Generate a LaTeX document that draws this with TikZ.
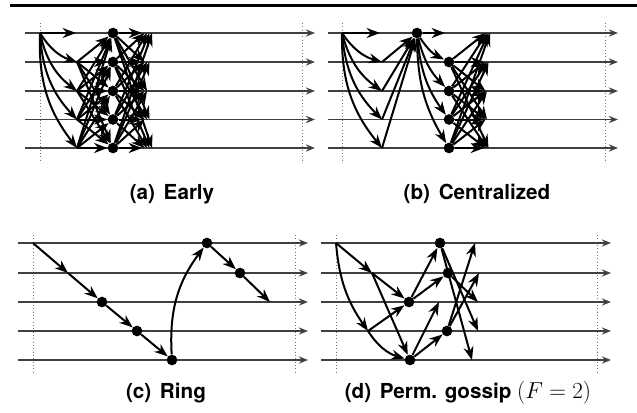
\documentclass[tikz,border=0pt]{standalone}
\usepackage{fontspec}
\setmainfont{TeX Gyre Heros}
\usetikzlibrary{arrows.meta}
\begin{document}
\begin{tikzpicture}[x=0.75pt,y=-0.75pt,
 tl/.style={draw=black!75, line width=1pt, -{Stealth[length=7pt,width=5.5pt,inset=2.6pt]}},
 msg/.style={draw=black, line width=1.5pt, -{Stealth[length=10pt,width=7.5pt,inset=3.2pt]}},
 vdot/.style={draw=black!55, line width=0.5pt, dash pattern=on 0.5pt off 2pt},
 ev/.style={circle, fill=black, inner sep=0pt, minimum size=8pt},
 captext/.style={anchor=base, font=\fontsize{15.5}{18}\selectfont\bfseries},
]
\useasboundingbox (0,0) rectangle (637,412);
\def\ysT{0/33,1/62,2/91,3/119.5,4/148}
\def\ysB{0/243,1/273,2/302,3/331,4/360}

% top rule
\coordinate (ruleL) at (10,5.5);
\coordinate (ruleR) at (637,5.5);
\draw[line width=2.3pt] (ruleL) -- (ruleR);

% ---------- dotted verticals ----------
\foreach \n/\x/\ya/\yb in {av1/40/23/163, av2/302/23/163, bv1/342/23/163, bv2/605/23/163,
                           cv1/33/235/372, cv2/295/235/372, dv1/336/235/372, dv2/597/235/372} {
  \coordinate (\n-t) at (\x,\ya);
  \coordinate (\n-b) at (\x,\yb);
  \draw[vdot] (\n-t) -- (\n-b);
}

% ---------- timelines ----------
\foreach \k/\y in \ysT {
  \coordinate (aL-\k) at (25,\y);  \coordinate (aR-\k) at (315,\y);
  \coordinate (bL-\k) at (328,\y); \coordinate (bR-\k) at (618,\y);
  \draw[tl] (aL-\k) -- (aR-\k);
  \draw[tl] (bL-\k) -- (bR-\k);
}
\foreach \k/\y in \ysB {
  \coordinate (cL-\k) at (18,\y);  \coordinate (cR-\k) at (308,\y);
  \coordinate (dL-\k) at (321,\y); \coordinate (dR-\k) at (611,\y);
  \draw[tl] (cL-\k) -- (cR-\k);
  \draw[tl] (dL-\k) -- (dR-\k);
}

% ---------- (a) Early ----------
\coordinate (a-s) at (40,33);
\foreach \k/\y in \ysT {
  \coordinate (a1-\k) at (77,\y);
  \node[ev] (a2-\k) at (113,\y) {};
}
\coordinate (a1s) at (76,33);
\draw[msg] (a-s) -- (a1s);
\foreach \k in {1,...,4} { \draw[msg] (a-s) to[bend right=20] (a1-\k); }
\foreach \j in {1,...,4} { \foreach \k in {0,...,4} { \draw[msg] (a1-\j) -- (a2-\k); } }
\foreach \j in {0,...,4} {
  \foreach \k/\y in \ysT {
    \coordinate (a3-\j-\k) at ({142+2.5*abs(\j-\k)},\y);
    \draw[msg] (a2-\j) -- (a3-\j-\k);
  }
}

% ---------- (b) Centralized ----------
\coordinate (b-s) at (342,33);
\coordinate (b1s) at (380,33);
\foreach \k/\y in \ysT { \coordinate (b1-\k) at (382,\y); }
\node[ev] (b2) at (417,33) {};
\coordinate (b2s) at (445,33);
\foreach \k/\y in {1/62,2/91,3/119.5,4/148} { \node[ev] (b3-\k) at (449,\y) {}; }
\draw[msg] (b-s) -- (b1s);
\foreach \k in {1,...,4} {
  \draw[msg] (b-s) to[bend right=20] (b1-\k);
  \draw[msg] (b1-\k) -- (b2);
  \draw[msg] (b2) to[bend right=15] (b3-\k);
}
\draw[msg] (b2) -- (b2s);
\foreach \j in {1,...,4} {
  \foreach \k/\y in \ysT {
    \coordinate (b4-\j-\k) at ({484+1.5*abs(\j-\k)},\y);
    \draw[msg] (b3-\j) -- (b4-\j-\k);
  }
}

% ---------- (c) Ring ----------
\coordinate (c0) at (33,243);
\coordinate (c1) at (68,273);
\node[ev] (c2) at (102,302) {};
\node[ev] (c3) at (137,331) {};
\node[ev] (c4) at (172,360) {};
\node[ev] (c5) at (207,243) {};
\node[ev] (c6) at (240,273) {};
\coordinate (c7) at (270,302);
\draw[msg] (c0) -- (c1);
\draw[msg] (c1) -- (c2);
\draw[msg] (c2) -- (c3);
\draw[msg] (c3) -- (c4);
\draw[msg] (c4) to[bend left=20] (c5);
\draw[msg] (c5) -- (c6);
\draw[msg] (c6) -- (c7);

% ---------- (d) Perm. gossip ----------
\coordinate (d0) at (336,243);
\coordinate (d1) at (372,273);
\coordinate (d3) at (368,331);
\node[ev] (dC2) at (409,302) {};
\node[ev] (dC4) at (410,360) {};
\node[ev] (dD0) at (440,243) {};
\node[ev] (dD1) at (448,273) {};
\node[ev] (dD3) at (447,331) {};
\coordinate (dD2) at (439,302);
\coordinate (dE0) at (475,243);
\coordinate (dE1) at (479,273);
\coordinate (dE2) at (478,302);
\coordinate (dE3) at (478,331);
\coordinate (dE4) at (472,360);
\draw[msg] (d0) -- (d1);
\draw[msg] (d0) to[bend right=15] (d3);
\draw[msg] (d1) -- (dC2);
\draw[msg] (d1) -- (dC4);
\draw[msg] (d3) -- (dC2);
\draw[msg] (d3) to[bend right=20] (dC4);
\draw[msg] (dC2) -- (dD0);
\draw[msg] (dC2) -- (dD1);
\draw[msg] (dC4) -- (dD2);
\draw[msg] (dC4) -- (dD3);
\draw[msg] (dD0) -- (dE4);
\draw[msg] (dD0) -- (dE3);
\draw[msg] (dD1) -- (dE2);
\draw[msg] (dD3) -- (dE0);
\draw[msg] (dD3) -- (dE1);

% ---------- captions ----------
\node[captext] (capa) at (172,199) {(a)\hspace{6.5pt}Early};
\node[captext] (capb) at (477,199) {(b)\hspace{6.5pt}Centralized};
\node[captext] (capc) at (166,398) {(c)\hspace{6.5pt}Ring};
\node[captext] (capd) at (468,398) {(d)\hspace{6.5pt}Perm. gossip {\fontsize{18.5}{20}\selectfont$(F=2)$}};
\end{tikzpicture}
\end{document}
